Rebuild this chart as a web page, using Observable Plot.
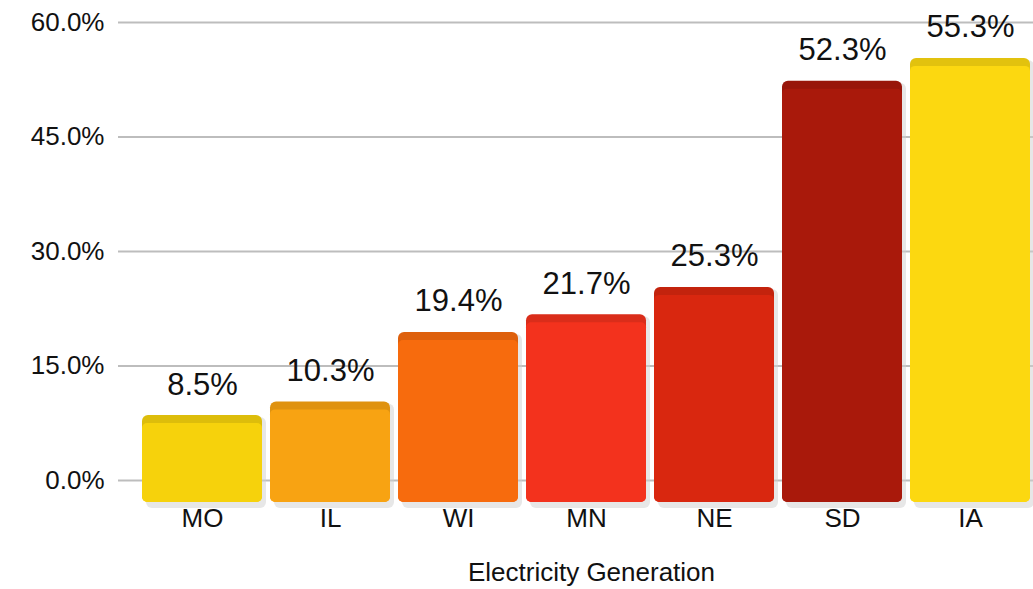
<!DOCTYPE html>
<html>
<head>
<meta charset="utf-8">
<script src="https://cdn.jsdelivr.net/npm/d3@7"></script>
<script src="https://cdn.jsdelivr.net/npm/@observablehq/plot@0.6"></script>
<style>
  html, body { margin: 0; padding: 0; background: #fff; }
  body { width: 1033px; font-family: "Liberation Sans", Arial, Helvetica, sans-serif; }
  #title { text-align: center; font-size: 26px; color: #111; margin-top: 22px; padding-left: 150px; line-height: 30px; }
</style>
</head>
<body>
<div id="chart"></div>
<div id="title">Electricity Generation</div>
<script>
const states = ["MO", "IL", "WI", "MN", "NE", "SD", "IA"];
const shares = [8.5, 10.3, 19.4, 21.7, 25.3, 52.3, 55.3];
const colors = ["#f6d20c", "#f8a312", "#f76b0d", "#f3321d", "#d9270f", "#a9190b", "#fcd810"];
const yTicks = [0, 15, 30, 45, 60];

const data = states.map((s, i) => ({
  state: s, share: shares[i], color: colors[i],
  top: d3.color(colors[i]).darker(0.3).formatHex()
}));

const chart = Plot.plot({
  width: 1033,
  height: 535,
  marginLeft: 140,
  marginRight: 0,
  marginTop: 22,
  marginBottom: 55,
  style: {fontFamily: "'Liberation Sans', Arial, Helvetica, sans-serif", background: "#fff", color: "#111"},
  x: {domain: states, padding: 0.06, paddingOuter: 0, label: null},
  y: {domain: [0, 60], label: null},
  marks: [
    Plot.gridY(yTicks, {stroke: "#bdbdbd", strokeOpacity: 1, strokeWidth: 2, insetLeft: -22}),
    Plot.axisY(yTicks, {tickSize: 0, tickPadding: 36, fontSize: 26, tickFormat: d => d.toFixed(1) + "%", label: null}),
    Plot.axisX({tickSize: 0, tickPadding: 28, fontSize: 26, label: null}),
    Plot.barY(data, {x: "state", y: "share", fill: "#d0d0d0", rx: 6, insetBottom: -26, dx: 4, dy: 2, fillOpacity: 0.5}),
    Plot.barY(data, {x: "state", y: "share", fill: "top", rx: 6, insetBottom: -22}),
    Plot.barY(data, {x: "state", y: "share", fill: "color", rx: 5, insetTop: 8, insetBottom: -22}),
    Plot.text(data, {x: "state", y: "share", text: d => d.share.toFixed(1) + "%", dy: -31, fontSize: 31, fill: "#111"})
  ]
});
document.getElementById("chart").append(chart);
</script>
</body>
</html>
